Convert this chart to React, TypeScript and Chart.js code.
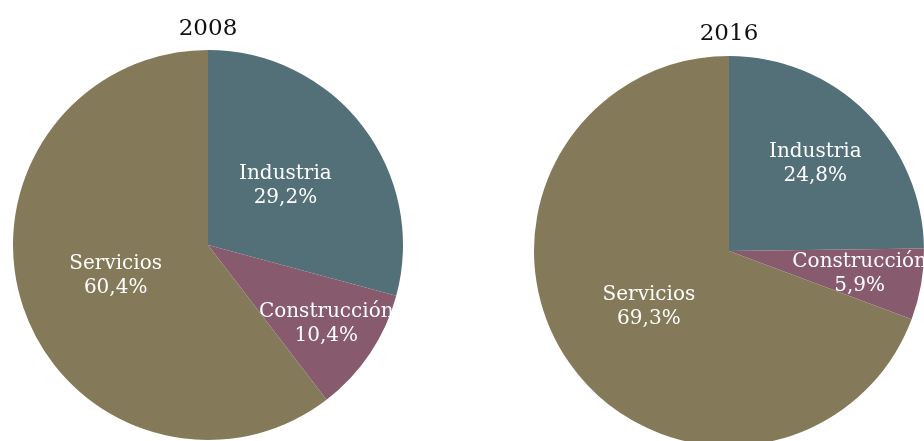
import React, { useEffect, useRef } from "react";
import { Chart, registerables } from "chart.js";

Chart.register(...registerables);

const categories = ["Industria", "Construcción", "Servicios"];
const values2008 = [29.2, 10.4, 60.4];
const values2016 = [24.8, 5.9, 69.3];
const titles = ["2008", "2016"];
const colors = ["rgb(83,112,121)", "rgb(135,91,109)", "rgb(132,122,90)"];

const FONT = "'DejaVu Serif', serif";

const labelPlugin = {
  id: "sliceLabels",
  afterDatasetsDraw(chart: any) {
    const opts = chart.options.plugins.sliceLabels || {};
    const fr: number[] = opts.radii || [];
    const meta = chart.getDatasetMeta(0);
    const data = chart.data.datasets[0].data as number[];
    const ctx = chart.ctx;
    ctx.save();
    ctx.fillStyle = "#ffffff";
    ctx.font = `20px ${FONT}`;
    ctx.textAlign = "center";
    ctx.textBaseline = "middle";
    meta.data.forEach((arc: any, i: number) => {
      const p = arc.getProps(["x", "y", "startAngle", "endAngle", "outerRadius"], true);
      const mid = (p.startAngle + p.endAngle) / 2;
      const r = p.outerRadius * (fr[i] ?? 0.5);
      const x = p.x + Math.cos(mid) * r;
      const y = p.y + Math.sin(mid) * r;
      const lbl = chart.data.labels[i];
      const val = data[i].toFixed(1).replace(".", ",") + "%";
      ctx.fillText(lbl, x, y - 12);
      ctx.fillText(val, x, y + 12);
    });
    ctx.restore();
  },
};

function PieChart(props: {
  values: number[];
  title: string;
  radii: number[];
  titlePad: { top: number; bottom: number };
  style: React.CSSProperties;
  width: number;
  height: number;
}) {
  const ref = useRef<HTMLCanvasElement>(null);
  useEffect(() => {
    if (!ref.current) return;
    const chart = new Chart(ref.current, {
      type: "pie",
      data: {
        labels: categories,
        datasets: [
          {
            data: props.values,
            backgroundColor: colors,
            borderWidth: 0,
          },
        ],
      },
      options: {
        responsive: false,
        animation: false,
        devicePixelRatio: 1,
        layout: { padding: { left: 13, right: 13, top: 0, bottom: 1 } },
        plugins: {
          legend: { display: false },
          tooltip: { enabled: false },
          title: {
            display: true,
            text: props.title,
            color: "#111111",
            font: { family: FONT, size: 23, weight: "normal", lineHeight: 1.2 },
            padding: props.titlePad,
          },
          sliceLabels: { radii: props.radii },
        } as any,
      },
      plugins: [labelPlugin],
    });
    return () => chart.destroy();
  }, []);
  return (
    <canvas
      ref={ref}
      width={props.width}
      height={props.height}
      style={{ position: "absolute", ...props.style, width: props.width, height: props.height }}
    />
  );
}

export default function App() {
  return (
    <div
      style={{
        position: "absolute",
        left: 0,
        top: 0,
        width: 924,
        height: 441,
        overflow: "hidden",
        background: "#ffffff",
      }}
    >
      <PieChart
        values={values2008}
        title={titles[0]}
        radii={[0.5, 0.73, 0.5]}
        titlePad={{ top: 15.2, bottom: 7.2 }}
        style={{ left: 0, top: 0 }}
        width={416}
        height={441}
      />
      <PieChart
        values={values2016}
        title={titles[1]}
        radii={[0.63, 0.68, 0.5]}
        titlePad={{ top: 20.7, bottom: 7.7 }}
        style={{ left: 521, top: 0 }}
        width={416}
        height={447}
      />
    </div>
  );
}
